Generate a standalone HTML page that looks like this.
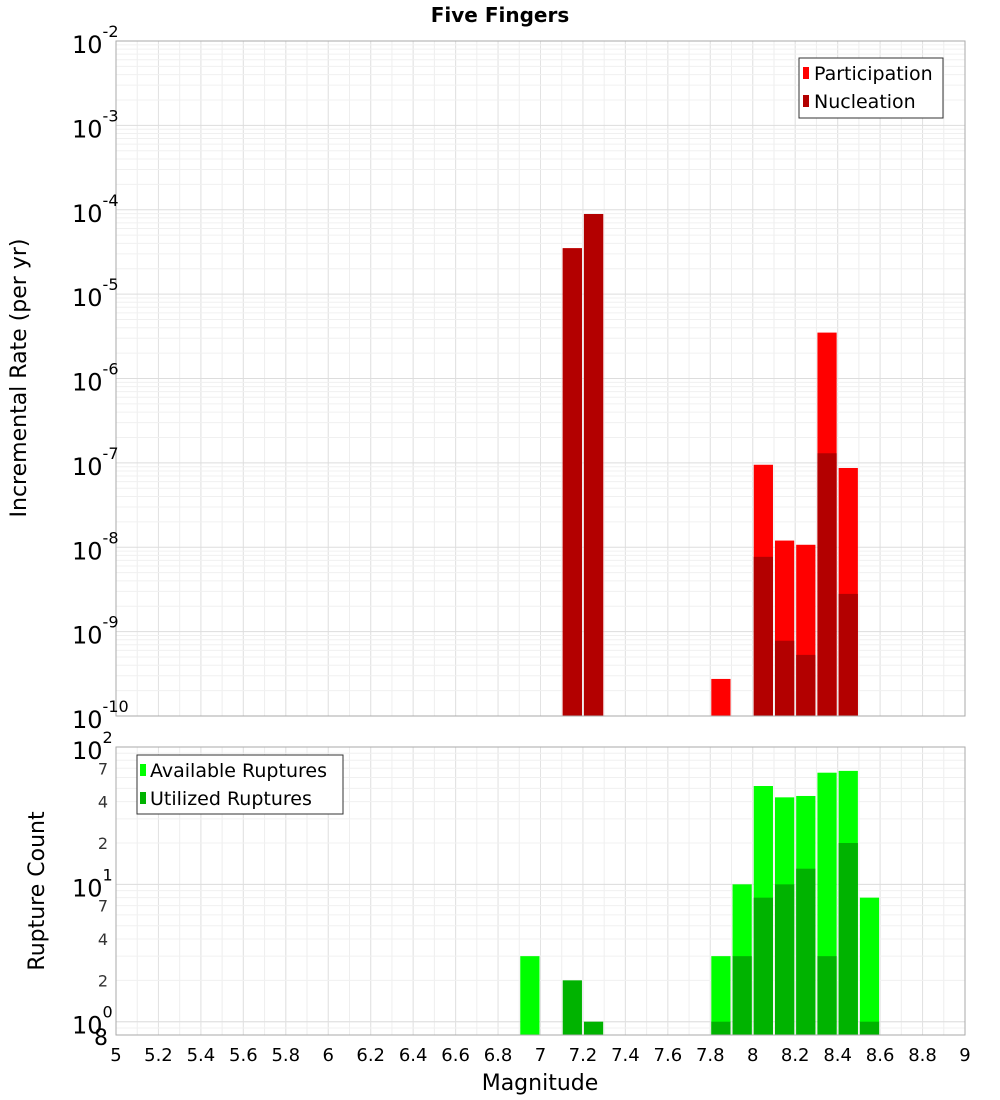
<!DOCTYPE html>
<html><head><meta charset="utf-8"><style>
body{margin:0;background:#fff;}
svg{display:block;font-family:"DejaVu Sans","Liberation Sans",sans-serif;}
</style></head><body>
<svg id="chart" width="1000" height="1100" viewBox="0 0 1000 1100" xmlns="http://www.w3.org/2000/svg">
<text x="500" y="22" text-anchor="middle" font-size="20" font-weight="bold">Five Fingers</text>
<g id="topPlot"></g>
<g id="botPlot"></g>
<text transform="translate(26,378) rotate(-90)" text-anchor="middle" font-size="22">Incremental Rate (per yr)</text>
<text transform="translate(44,891) rotate(-90)" text-anchor="middle" font-size="22">Rupture Count</text>
<text x="540" y="1090" text-anchor="middle" font-size="22">Magnitude</text>
</svg>
<script>
const binCenters=[7.15,7.25,7.85,8.05,8.15,8.25,8.35,8.45];
const participation=[3.5e-5,8.9e-5,2.75e-10,9.5e-8,1.2e-8,1.07e-8,3.5e-6,8.7e-8];
const nucleation=[3.5e-5,8.9e-5,0,7.7e-9,7.8e-10,5.3e-10,1.3e-7,2.8e-9];
const countCenters=[6.95,7.15,7.25,7.85,7.95,8.05,8.15,8.25,8.35,8.45,8.55];
const available=[3,0,0,3,10,52,43,44,65,67,8];
const utilized=[0,2,1,1,3,8,10,13,3,20,1];
const xTicks=[5,5.2,5.4,5.6,5.8,6,6.2,6.4,6.6,6.8,7,7.2,7.4,7.6,7.8,8,8.2,8.4,8.6,8.8,9];
const topExps=[-2,-3,-4,-5,-6,-7,-8,-9,-10];
const botMinor=[2,4,7,20,40,70];

const NS="http://www.w3.org/2000/svg";
const L=116,R=965;
const X=m=>L+(m-5)*(R-L)/4;
const T0=41,T1=716;
const YT=v=>T0+(-2-Math.log10(v))*(T1-T0)/8;
const B0=747,B1=1035,bmin=Math.log10(0.8),bmax=2;
const YB=v=>B1-(Math.log10(v)-bmin)*(B1-B0)/(bmax-bmin);
function el(p,t,a){const e=document.createElementNS(NS,t);for(const k in a)e.setAttribute(k,a[k]);p.appendChild(e);return e;}
const topG=document.getElementById('topPlot'),botG=document.getElementById('botPlot');

function frameGrid(g,y0,y1,ylist,yminor){
  el(g,'rect',{x:L,y:y0,width:R-L,height:y1-y0,fill:'#fff'});
  for(let m=5;m<=9.001;m+=0.1){el(g,'line',{x1:X(m),x2:X(m),y1:y0,y2:y1,stroke:'#eeeeee','stroke-width':1});}
  xTicks.forEach(t=>{el(g,'line',{x1:X(t),x2:X(t),y1:y0,y2:y1,stroke:'#e2e2e2','stroke-width':1});});
  yminor.forEach(y=>el(g,'line',{x1:L,x2:R,y1:y,y2:y,stroke:'#f0f0f0','stroke-width':1}));
  ylist.forEach(y=>el(g,'line',{x1:L,x2:R,y1:y,y2:y,stroke:'#dddddd','stroke-width':1}));
}
let tminor=[],tmajor=[];
topExps.forEach(e=>{tmajor.push(YT(Math.pow(10,e)));if(e<-2)for(let k=2;k<10;k++)tminor.push(YT(k*Math.pow(10,e)));});
frameGrid(topG,T0,T1,tmajor,tminor);
binCenters.forEach((c,i)=>{
  const x0=X(c-0.05)+1,w=X(c+0.05)-X(c-0.05)-2;
  if(participation[i]>0){const r=el(topG,'rect',{x:x0,y:YT(participation[i]),width:w,height:T1-YT(participation[i]),fill:'#ff0000'});
  
  }
  if(nucleation[i]>0){const r=el(topG,'rect',{x:x0,y:YT(nucleation[i]),width:w,height:T1-YT(nucleation[i]),fill:'#b30000'});
  
  }
});
el(topG,'rect',{x:L,y:T0,width:R-L,height:T1-T0,fill:'none',stroke:'#aaa'});
topExps.forEach(e=>{const y=YT(Math.pow(10,e));
  const t=el(topG,'text',{x:72,y:y+12,'font-size':24});
  
  
  t.textContent='10';
  const s=el(t,'tspan',{dy:-16,'font-size':16});s.textContent=String(e);});
el(topG,'rect',{x:799,y:58,width:144,height:60,fill:'#fff',stroke:'#333'});
el(topG,'rect',{x:803,y:67,width:6,height:12,fill:'#ff0000'});
el(topG,'rect',{x:803,y:95,width:6,height:12,fill:'#b30000'});
let lt=el(topG,'text',{x:814,y:80,'font-size':19});lt.textContent='Participation';


lt=el(topG,'text',{x:814,y:108,'font-size':19});lt.textContent='Nucleation';



let bmaj=[YB(1),YB(10),YB(100)],bmin2=[];
for(let k=1;k<10;k++){bmin2.push(YB(k));bmin2.push(YB(k*10));}
bmin2.push(YB(0.8));bmin2.push(YB(0.9));
frameGrid(botG,B0,B1,bmaj,bmin2.filter(y=>y>=B0&&y<=B1));
countCenters.forEach((c,i)=>{
  const x0=X(c-0.05)+1,w=X(c+0.05)-X(c-0.05)-2;
  if(available[i]>0){const r=el(botG,'rect',{x:x0,y:YB(available[i]),width:w,height:B1-YB(available[i]),fill:'#00ff00'});
  
  }
  if(utilized[i]>0){const r=el(botG,'rect',{x:x0,y:YB(utilized[i]),width:w,height:B1-YB(utilized[i]),fill:'#00b300'});
  
  }
});
el(botG,'rect',{x:L,y:B0,width:R-L,height:B1-B0,fill:'none',stroke:'#aaa'});
[[0,1],[1,10],[2,100]].forEach(([e,v])=>{const y=YB(v);
  const t=el(botG,'text',{x:72,y:y+12,'font-size':24});
  
  
  t.textContent='10';
  const s=el(t,'tspan',{dy:-16,'font-size':16});s.textContent=String(e);});
botMinor.forEach(v=>{const t=el(botG,'text',{x:108,y:YB(v)+6,'font-size':16,'text-anchor':'end',fill:'#333'});
  
  
  t.textContent=String(v).charAt(0);});
let e8=el(botG,'text',{x:108,y:YB(0.8)+10,'font-size':22,'text-anchor':'end'});e8.textContent='8';


el(botG,'rect',{x:137,y:755,width:206,height:59,fill:'#fff',stroke:'#333'});
el(botG,'rect',{x:140,y:764,width:6,height:12,fill:'#00ff00'});
el(botG,'rect',{x:140,y:792,width:6,height:12,fill:'#00b300'});
lt=el(botG,'text',{x:150,y:777,'font-size':19});lt.textContent='Available Ruptures';


lt=el(botG,'text',{x:150,y:805,'font-size':19});lt.textContent='Utilized Ruptures';


xTicks.forEach(t=>{const e=el(botG,'text',{x:X(t),y:1061,'font-size':18,'text-anchor':'middle'});
  
  
  e.textContent=String(t);});
</script>
</body></html>
